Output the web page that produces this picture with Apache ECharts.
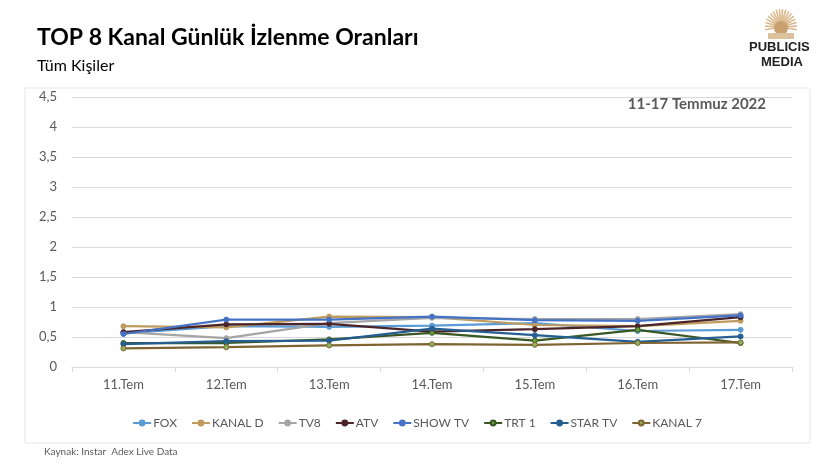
<!DOCTYPE html>
<html>
<head>
<meta charset="utf-8">
<script src="https://cdn.jsdelivr.net/npm/echarts@6/dist/echarts.min.js"></script>
<style>
  html, body { margin: 0; padding: 0; background: #fff; }
  #chart { width: 834px; height: 464px; }
</style>
</head>
<body>
<div id="chart"></div>
<script>
// gün kategorileri
var days = ['11.Tem', '12.Tem', '13.Tem', '14.Tem', '15.Tem', '16.Tem', '17.Tem'];
var yTicks = [0, 0.5, 1, 1.5, 2, 2.5, 3, 3.5, 4, 4.5];

// kanal verileri
var fox     = [0.56, 0.68, 0.67, 0.69, 0.73, 0.60, 0.62];
var kanalD  = [0.68, 0.66, 0.84, 0.83, 0.70, 0.68, 0.77];
var tv8     = [0.58, 0.48, 0.73, 0.82, 0.80, 0.80, 0.88];
var atv     = [0.58, 0.71, 0.72, 0.59, 0.63, 0.68, 0.83];
var showTv  = [0.55, 0.79, 0.79, 0.84, 0.78, 0.77, 0.86];
var trt1    = [0.40, 0.40, 0.46, 0.57, 0.44, 0.62, 0.40];
var starTv  = [0.38, 0.43, 0.44, 0.64, 0.53, 0.42, 0.51];
var kanal7  = [0.31, 0.33, 0.36, 0.38, 0.37, 0.40, 0.41];

var channels = [
  { name: 'FOX',      data: fox,    color: '#5B9BD5', marker: '#5B9BD5' },
  { name: 'KANAL D',  data: kanalD, color: '#BF9B5E', marker: '#BF9B5E' },
  { name: 'TV8',      data: tv8,    color: '#A5A5A5', marker: '#A5A5A5' },
  { name: 'ATV',      data: atv,    color: '#4B2429', marker: '#4B2429' },
  { name: 'SHOW TV',  data: showTv, color: '#4472C4', marker: '#4472C4' },
  { name: 'TRT 1',    data: trt1,   color: '#385723', marker: '#6A9A3A' },
  { name: 'STAR TV',  data: starTv, color: '#255E91', marker: '#255E91' },
  { name: 'KANAL 7',  data: kanal7, color: '#7F6432', marker: '#8CB45A' }
];

var chart = echarts.init(document.getElementById('chart'));
var font = 'Lato, "Open Sans", sans-serif';

// logo: altın rengi güneş ışınları
var logo = [];
for (var i = 0; i < 18; i++) {
  var a = Math.PI * (0.95 + i * 1.1 / 17);
  logo.push({
    type: 'line',
    shape: { x1: 781, y1: 27, x2: 781 + Math.cos(a) * 16, y2: 27 + Math.sin(a) * 18 },
    style: { stroke: '#D9B98C', lineWidth: 1.6 }
  });
}
logo.push({ type: 'circle', shape: { cx: 781, cy: 28, r: 7 }, style: { fill: '#C9A070' } });
logo.push({ type: 'rect', shape: { x: 768, y: 33, width: 26, height: 6 }, style: { fill: '#DCC29C' } });

var option = {
  backgroundColor: '#fff',
  animation: false,
  textStyle: { fontFamily: font },
  graphic: logo.concat([
    { type: 'text', left: 37, top: 26, style: { text: 'TOP 8 Kanal Günlük İzlenme Oranları', font: 'bold 23px ' + font, fill: '#000' } },
    { type: 'text', left: 37, top: 58, style: { text: 'Tüm Kişiler', font: '16px ' + font, fill: '#000' } },
    { type: 'rect', shape: { x: 25, y: 88, width: 785, height: 355 }, style: { fill: 'none', stroke: '#E6E6E6', lineWidth: 1 }, z: -1 },
    { type: 'text', right: 68, top: 97, style: { text: '11-17 Temmuz 2022', font: 'bold 15px ' + font, fill: '#595959' } },
    { type: 'text', left: 44, top: 447, style: { text: 'Kaynak: Instar  Adex Live Data', font: '10px ' + font, fill: '#595959' } },
    { type: 'text', left: 749, top: 41, style: { text: 'PUBLICIS', font: 'bold 13px "Liberation Sans", Arial, sans-serif', fill: '#222' } },
    { type: 'text', left: 761, top: 56, style: { text: 'MEDIA', font: 'bold 13px "Liberation Sans", Arial, sans-serif', fill: '#222' } }
  ]),
  legend: {
    bottom: 30,
    left: 'center',
    itemWidth: 18,
    itemHeight: 6,
    itemGap: 14,
    textStyle: { color: '#595959', fontSize: 12, fontFamily: font, padding: [0, 0, 0, -3] },
    data: channels.map(function (c) { return c.name; })
  },
  grid: { left: 72, right: 42, top: 97, bottom: 97 },
  xAxis: {
    type: 'category',
    data: days,
    boundaryGap: true,
    axisLine: { lineStyle: { color: '#D9D9D9' } },
    axisTick: { show: true, length: 5, lineStyle: { color: '#D9D9D9' } },
    axisLabel: { color: '#595959', fontSize: 13, margin: 11 }
  },
  yAxis: {
    type: 'value',
    min: yTicks[0],
    max: yTicks[yTicks.length - 1],
    interval: 0.5,
    axisLine: { show: false },
    axisTick: { show: false },
    splitLine: { lineStyle: { color: '#D9D9D9' } },
    axisLabel: {
      color: '#595959', fontSize: 13, margin: 15,
      formatter: function (v) { return String(v).replace('.', ','); }
    }
  },
  series: channels.map(function (c) {
    return {
      name: c.name,
      type: 'line',
      data: c.data,
      symbol: 'circle',
      symbolSize: 5,
      lineStyle: { color: c.color, width: 2.25 },
      itemStyle: { color: c.marker, borderColor: c.color, borderWidth: 1 }
    };
  })
};

chart.setOption(option);
</script>
</body>
</html>
